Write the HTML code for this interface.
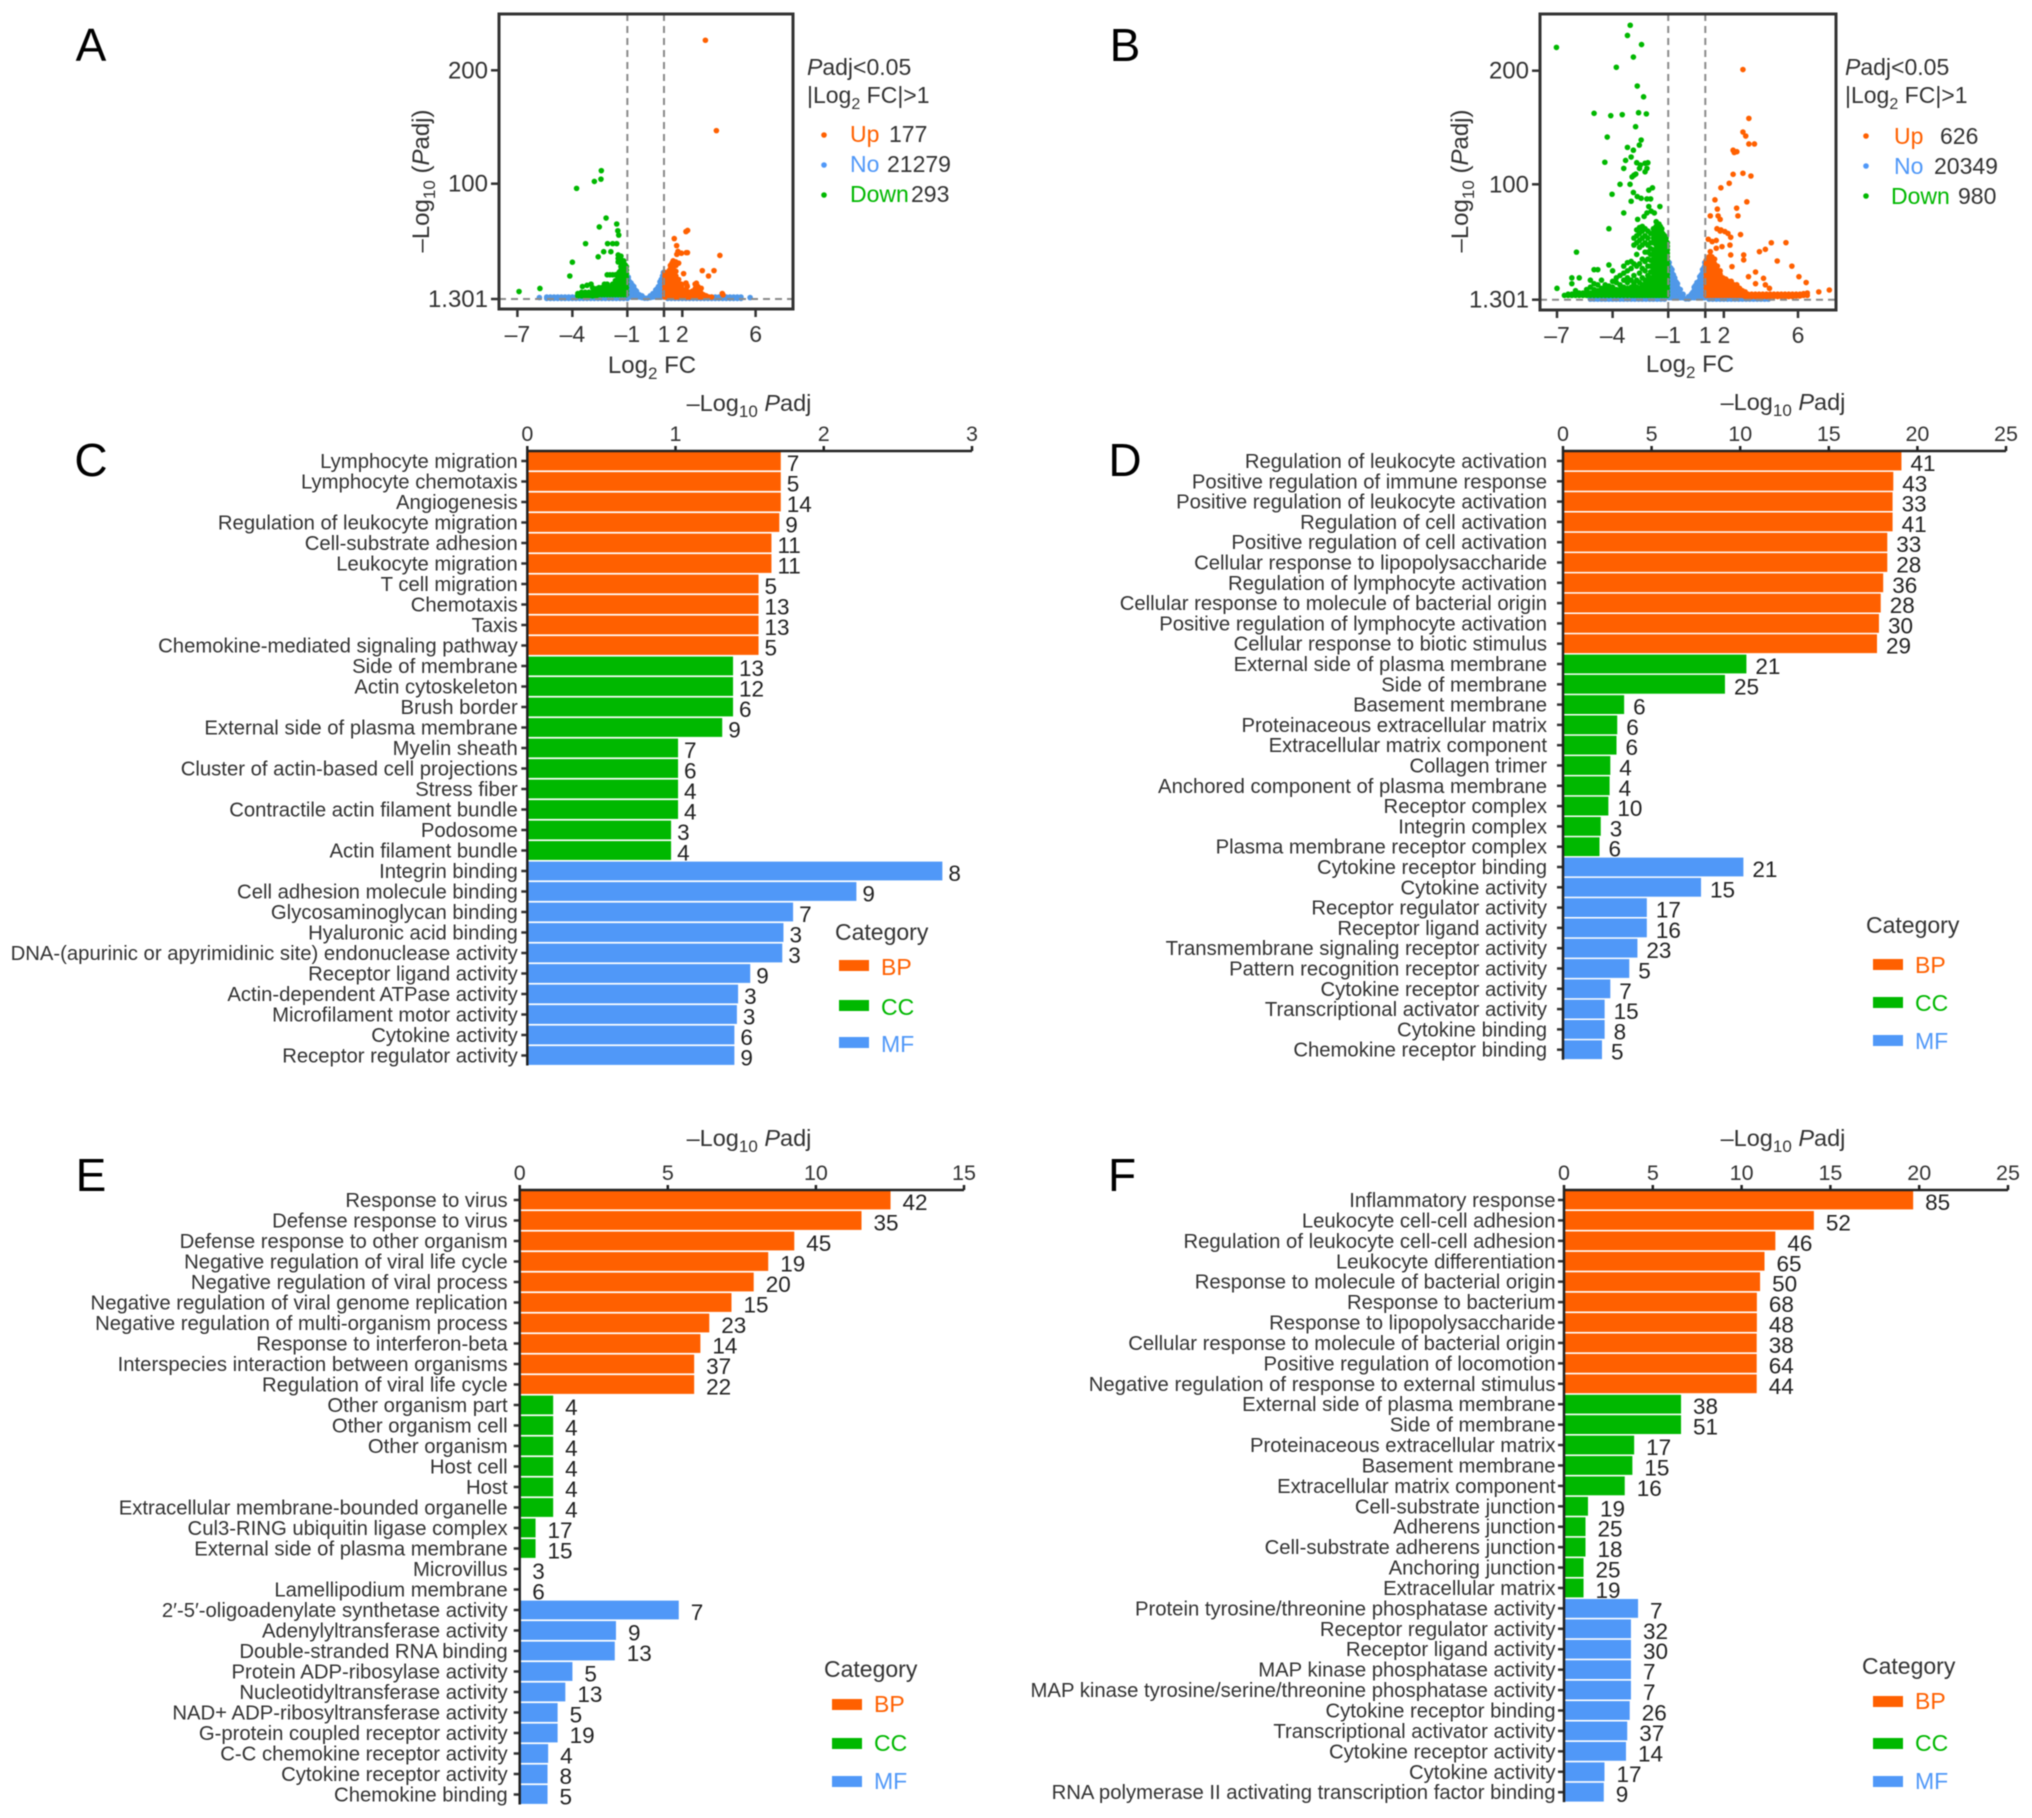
<!DOCTYPE html>
<html lang="en">
<head>
<meta charset="utf-8">
<title>Volcano plots and enrichment bar charts</title>
<style>
html,body{margin:0;padding:0;background:#fff;}
#figure{display:block;width:2032px;height:1818px;font-family:"Liberation Sans",sans-serif;filter:blur(0.65px);}
text{font-family:"Liberation Sans",sans-serif;fill:#333;}
.ttl{font-size:23.5px;}
.lg{font-size:23px;}
.letter{font-size:46px;fill:#000;text-anchor:middle;}
.vt{font-size:24px;}
</style>
</head>
<body>
<svg id="figure" xmlns="http://www.w3.org/2000/svg" width="2032" height="1818" viewBox="0 0 2032 1818">
<rect x="0" y="0" width="2032" height="1818" fill="#fff"/>

<text class="letter" x="91" y="61">A</text>
<text class="letter" x="1125" y="61">B</text>
<text class="letter" x="91" y="476">C</text>
<text class="letter" x="1125" y="476">D</text>
<text class="letter" x="91" y="1191">E</text>
<text class="letter" x="1122" y="1191">F</text>

<g id="volcano-a"></g>
<g id="volcano-b"></g>
<g id="bars-c"></g>
<g id="bars-d"></g>
<g id="bars-e"></g>
<g id="bars-f"></g>

<!-- volcano A annotations -->
<text class="vt" transform="translate(429,181) rotate(-90)" text-anchor="middle">–Log<tspan dy="6" font-size="17">10</tspan><tspan dy="-6"> (</tspan><tspan font-style="italic">P</tspan>adj)</text>
<text class="vt" x="652" y="373" text-anchor="middle">Log<tspan dy="6" font-size="17">2</tspan><tspan dy="-6"> FC</tspan></text>
<text class="lg" x="807" y="75"><tspan font-style="italic">P</tspan>adj&lt;0.05</text>
<text class="lg" x="807" y="103">|Log<tspan dy="6" font-size="16">2</tspan><tspan dy="-6"> FC|&gt;1</tspan></text>
<circle cx="824" cy="135" r="2.8" fill="#FF6000"/>
<circle cx="824" cy="165" r="2.8" fill="#5098F8"/>
<circle cx="824" cy="195" r="2.8" fill="#00B800"/>
<text class="lg" x="850" y="142" style="fill:#FF6000">Up</text>
<text class="lg" x="889" y="142">177</text>
<text class="lg" x="850" y="172" style="fill:#5098F8">No</text>
<text class="lg" x="887" y="172">21279</text>
<text class="lg" x="850" y="202" style="fill:#00B800">Down</text>
<text class="lg" x="911" y="202">293</text>

<!-- volcano B annotations -->
<text class="vt" transform="translate(1468,181) rotate(-90)" text-anchor="middle">–Log<tspan dy="6" font-size="17">10</tspan><tspan dy="-6"> (</tspan><tspan font-style="italic">P</tspan>adj)</text>
<text class="vt" x="1690" y="372" text-anchor="middle">Log<tspan dy="6" font-size="17">2</tspan><tspan dy="-6"> FC</tspan></text>
<text class="lg" x="1845" y="75"><tspan font-style="italic">P</tspan>adj&lt;0.05</text>
<text class="lg" x="1845" y="103">|Log<tspan dy="6" font-size="16">2</tspan><tspan dy="-6"> FC|&gt;1</tspan></text>
<circle cx="1866" cy="136" r="2.8" fill="#FF6000"/>
<circle cx="1866" cy="166" r="2.8" fill="#5098F8"/>
<circle cx="1866" cy="196" r="2.8" fill="#00B800"/>
<text class="lg" x="1894" y="144" style="fill:#FF6000">Up</text>
<text class="lg" x="1940" y="144">626</text>
<text class="lg" x="1894" y="174" style="fill:#5098F8">No</text>
<text class="lg" x="1934" y="174">20349</text>
<text class="lg" x="1891" y="204" style="fill:#00B800">Down</text>
<text class="lg" x="1958" y="204">980</text>

<!-- bar chart titles -->
<text class="ttl" x="749" y="411" text-anchor="middle">–Log<tspan dy="6" font-size="17">10</tspan><tspan dy="-6"> </tspan><tspan font-style="italic">P</tspan>adj</text>
<text class="ttl" x="1783" y="410" text-anchor="middle">–Log<tspan dy="6" font-size="17">10</tspan><tspan dy="-6"> </tspan><tspan font-style="italic">P</tspan>adj</text>
<text class="ttl" x="749" y="1146" text-anchor="middle">–Log<tspan dy="6" font-size="17">10</tspan><tspan dy="-6"> </tspan><tspan font-style="italic">P</tspan>adj</text>
<text class="ttl" x="1783" y="1146" text-anchor="middle">–Log<tspan dy="6" font-size="17">10</tspan><tspan dy="-6"> </tspan><tspan font-style="italic">P</tspan>adj</text>

<!-- legend C -->
<g>
<text class="lg" x="835" y="940">Category</text>
<rect x="839" y="960" width="30" height="11" fill="#FF6000"/>
<text class="lg" x="881" y="975" style="fill:#FF6000">BP</text>
<rect x="839" y="1000" width="30" height="11" fill="#00B800"/>
<text class="lg" x="881" y="1015" style="fill:#00B800">CC</text>
<rect x="839" y="1037" width="30" height="11" fill="#5098F8"/>
<text class="lg" x="881" y="1052" style="fill:#5098F8">MF</text>
</g>
<!-- legend D -->
<g>
<text class="lg" x="1866" y="933">Category</text>
<rect x="1873" y="959" width="30" height="11" fill="#FF6000"/>
<text class="lg" x="1915" y="973" style="fill:#FF6000">BP</text>
<rect x="1873" y="997" width="30" height="11" fill="#00B800"/>
<text class="lg" x="1915" y="1011" style="fill:#00B800">CC</text>
<rect x="1873" y="1035" width="30" height="11" fill="#5098F8"/>
<text class="lg" x="1915" y="1049" style="fill:#5098F8">MF</text>
</g>
<!-- legend E -->
<g>
<text class="lg" x="824" y="1677">Category</text>
<rect x="832" y="1699" width="30" height="11" fill="#FF6000"/>
<text class="lg" x="874" y="1712" style="fill:#FF6000">BP</text>
<rect x="832" y="1738" width="30" height="11" fill="#00B800"/>
<text class="lg" x="874" y="1751" style="fill:#00B800">CC</text>
<rect x="832" y="1776" width="30" height="11" fill="#5098F8"/>
<text class="lg" x="874" y="1789" style="fill:#5098F8">MF</text>
</g>
<!-- legend F -->
<g>
<text class="lg" x="1862" y="1674">Category</text>
<rect x="1873" y="1696" width="30" height="11" fill="#FF6000"/>
<text class="lg" x="1915" y="1709" style="fill:#FF6000">BP</text>
<rect x="1873" y="1738" width="30" height="11" fill="#00B800"/>
<text class="lg" x="1915" y="1751" style="fill:#00B800">CC</text>
<rect x="1873" y="1776" width="30" height="11" fill="#5098F8"/>
<text class="lg" x="1915" y="1789" style="fill:#5098F8">MF</text>
</g>
</svg>

<script>
// ---------- Volcano data: each row is [log2FC, -log10 Padj, -log10 Padj, ...] ----------
const volcanoXTicks = [-7, -4, -1, 1, 2, 6];
const volcanoYTicks = [1.301, 100, 200];
const volcanoYTickLabels = ['1.301', '100', '200'];

const aNo = [
[-5.8,2.5],[-5.4,1.8,3],[-5.2,1.8,3],[-5,1.8,3],[-4.8,1.8,3],[-4.6,1.8,3],[-4.4,1.8,3],[-4.2,1.8,3],[-4,1.8,3],[-3.8,1.8,3],[-3.6,1.8,3],[-3.4,1.8,3],[-3.2,1.8,3],[-3,1.8,3],[-2.8,1.8,3],[-2.6,1.8,3],[-2.4,1.8,3],[-2.2,1.8,3],[-2,1.8,3],[-1.8,1.8,3],[-1.6,1.8,3],[-1.4,1.8,3],[-1.2,1.8,3],[-1,1.8,3],
[-0.95,3,6,9,12,15,18,20],[-0.87,4,7,10,13,16],[-0.8,3,6,9,12,15],[-0.72,4,7,10,13],[-0.65,3,6,9,12],[-0.57,4,7,9],[-0.5,3,6,8],[-0.35,3,5],[-0.2,2.5,4],[-0.05,2],[0.1,2],[0.25,2.5,4],[0.4,3,6],[0.55,3,6,9],[0.62,4,7,10],[0.7,3,6,9,12],[0.78,4,7,10,13,16],[0.85,3,6,9,12,15,18],[0.92,4,7,10,13,16,19,21],[0.97,3,6,9,12,15,18,21,24],
[1.2,1.8,3],[1.4,1.8,3],[1.6,1.8,3],[1.8,1.8,3],[2,1.8,3],[2.2,1.8,3],[2.4,1.8,3],[2.6,1.8,3],[2.8,1.8,3],[3,1.8,3],[3.2,1.8,3],[3.4,1.8,3],[3.6,1.8,3],[3.8,1.8,3],[4,1.8,3],[4.2,1.8,3],[4.4,1.8,3],[4.6,1.8,3],[4.8,1.8,3],[5,1.8,3],[5.2,1.8,3],[5.7,2.5]
];
const aDown = [
[-2.42,111.5],[-2.44,104],[-2.8,102],[-3.77,96],[-2.16,70.6],[-2.53,63],[-1.58,65.5],[-1.52,59.7],[-1.47,56],[-3.28,48.7],[-2.08,48.7],[-1.8,48.7],[-1.58,48.7],[-2.29,41.8],[-1.9,41.8],[-2.59,37.4],[-4,32.8],[-4.14,21],[-6.91,7.7],[-5.77,10.3],[-2.98,14],[-3.45,12],[-3.2,13],
[-1.05,5,8,11,14,17,20,23,26,29],[-1.12,6.5,9.5,12.5,15.5,18.5,21.5,24.5,27.5,30.5],[-1.2,5,8,11,14,17,20,23,26,29,32,34],[-1.28,6.5,9.5,12.5,15.5,18.5,21.5,24.5,27.5,30.5,33.5],[-1.35,5,8,11,14,17,20,23,26,29,32,35,38],[-1.43,6.5,9.5,12.5,15.5,18.5,21.5,24.5,33.5,36.5],[-1.5,5,8,11,14,17,20,23,33,36,39],[-1.65,5,8,11,14,17,22],[-1.8,5,8,11,14,22],[-1.95,5,8,11,22],[-2.1,5,8,11,14,22],[-2.25,5,8,11,14],[-2.4,5,8,11],[-2.55,5,8,11],[-2.7,4,7,10],[-2.9,4,7,11],[-3.1,4,7],[-3.3,4,7],[-3.5,4,7],[-3.7,4,6]
];
const aUp = [
[3.26,226.5],[3.86,146.8],[2.29,60],[2.2,59],[1.56,53],[1.69,47],[1.7,39.5],[1.95,40.5],[2.22,41],[1.76,42],[2.28,41],[4.05,38.6],[1.55,33],[1.44,32],[1.66,32],[2.07,23],[3.09,25.6],[3.43,21],[3.73,25.6],[2.2,15],[2.77,14.8],[2.27,12],[2.75,11.4],[3.03,10.5],[4.18,6],[4.22,4.8],
[1.05,3,6,9,12,15,18,21,24],[1.12,4.5,7.5,10.5,13.5,16.5,19.5,22.5],[1.2,3,6,9,12,15,18,21,24],[1.28,4.5,7.5,10.5,13.5,16.5,19.5,22.5,25.5],[1.35,3,6,9,12,15,18,21,24,27,30],[1.42,4.5,7.5,10.5,13.5,16.5,19.5,22.5,25.5,28.5],[1.5,3,6,9,12,15,18,21,24,27,31,34],[1.65,3,6,9,12,15,18,21,25,30,33],[1.8,3,6,9,12,15,18,32],[1.95,3,6,9,12,14],[2.1,3,6,9],[2.25,3,6,8,13],[2.4,3,5,7],[2.55,3,5,8],[2.7,3,5,7,10,14],[2.85,3,5,8,12],[3,3,5,7],[3.15,3,5],[3.3,3,4],[3.45,3],[3.6,3]
];

const bNo = [
[-5.2,1.8,2.8],[-5,1.8,2.8],[-4.8,1.8,2.8],[-4.6,1.8,2.8],[-4.4,1.8,2.8],[-4.2,1.8,2.8],[-4,1.8,2.8],[-3.8,1.8,2.8],[-3.6,1.8,2.8],[-3.4,1.8,2.8],[-3.2,1.8,2.8],[-3,1.8,2.8],[-2.8,1.8,2.8],[-2.6,1.8,2.8],[-2.4,1.8,2.8],[-2.2,1.8,2.8],[-2,1.8,2.8],[-1.8,1.8,2.8],[-1.6,1.8,2.8],[-1.4,1.8,2.8],[-1.2,1.8,2.8],
[-0.95,3,6,9,12,15,18,21,24,27,30,33],[-0.87,4.5,7.5,10.5,13.5,16.5,19.5,22.5,25.5,28.5],[-0.8,3,6,9,12,15,18,21,24,27],[-0.72,4.5,7.5,10.5,13.5,16.5,19.5,22.5],[-0.65,3,6,9,12,15,18,20],[-0.57,4.5,7.5,10.5,13.5,16.5],[-0.5,3,6,9,12,15],[-0.42,4.5,7.5,10.5],[-0.35,3,6,10],[-0.2,3,6],[-0.05,2],[0.1,2,4],[0.25,3,6],[0.32,4.5,7.5],[0.4,3,6,9,12],[0.47,4.5,7.5,10.5,13.5],[0.55,3,6,9,12,16],[0.62,4.5,7.5,10.5,13.5,16.5],[0.7,3,6,9,12,15,18,21],[0.78,4.5,7.5,10.5,13.5,16.5,19.5,22.5],[0.85,3,6,9,12,15,18,21,24,27],[0.92,4.5,7.5,10.5,13.5,16.5,19.5,22.5,25.5,28.5],[0.97,3,6,9,12,15,18,21,24,27,30,33],
[1.2,1.8,2.8],[1.4,1.8,2.8],[1.6,1.8,2.8],[1.8,1.8,2.8],[2,1.8,2.8],[2.2,1.8,2.8],[2.4,1.8,2.8],[2.6,1.8,2.8],[2.8,1.8,2.8],[3,1.8,2.8],[3.2,1.8,2.8],[3.4,1.8,2.8],[3.6,1.8,2.8],[3.8,1.8,2.8],[4,1.8,2.8],[4.2,1.8,2.8],[4.4,1.8,2.8]
];
const bDown = [
[-3.05,240],[-3.2,231],[-2.44,223],[-7.03,220.5],[-2.88,212],[-3.8,203],[-2.67,186.5],[-2.33,177],[-5,162.5],[-4.1,160.4],[-3.48,161.3],[-2.6,163],[-2.18,162],[-2.76,150.7],[-4.29,141.6],[-2.46,139],[-2.56,134.5],[-3.2,132.5],[-2.88,130],[-4.42,119.4],[-3,124],[-3.4,114],[-3.3,121],
[-2.7,119],[-2.5,117],[-2.25,118.5],[-2.1,119],[-2.15,114],[-2.25,111],[-2.55,114],[-2.85,108],[-2.95,106.5],[-2.75,109],[-3.06,100],[-3.6,100],[-4.03,91.5],[-2.88,93],[-2.67,89.5],[-2.46,88],[-2.15,87.5],[-1.85,97],[-2.05,95],[-1.95,87.5],[-3,85.5],[-1.45,81],[-2.05,81],[-1.92,77],[-1.75,75.5],[-2.15,75.5],[-3.4,75.5],[-2.3,72.5],[-2.65,70],[-4.2,62],[-5.95,42],
[-1.05,5,8,11,14,17,20,23,26,29,32,35,38,41,44,47,50],[-1.12,6.5,9.5,12.5,15.5,18.5,21.5,24.5,27.5,30.5,33.5,36.5,39.5,42.5,45.5,48.5,51.5,54],[-1.2,5,8,11,14,17,20,23,26,29,32,35,38,41,44,47,50,53,56],[-1.28,6.5,9.5,12.5,15.5,18.5,21.5,24.5,27.5,30.5,33.5,36.5,39.5,42.5,45.5,48.5,51.5,54.5,57.5],[-1.35,5,8,11,14,17,20,23,26,29,32,35,38,41,44,47,50,53,56,59,62],[-1.43,6.5,9.5,12.5,15.5,18.5,21.5,24.5,27.5,30.5,33.5,36.5,39.5,42.5,45.5,48.5,51.5,54.5,57.5,60.5,64],[-1.5,5,8,11,14,17,20,23,26,29,32,35,38,41,44,47,50,53,56,59,62,66],[-1.58,6.5,9.5,12.5,15.5,18.5,21.5,24.5,27.5,30.5,33.5,38,42,46,50,54,58,62,66],[-1.65,5,8,11,14,17,20,23,26,29,32,36,40,44,48,52,56,60,64,68],
[-1.8,5,8,11,14,17,20,24,28,32,36,40,44,50,54,58,62],[-1.95,5,8,11,14,17,20,25,30,35,40,45,50,58],[-2.1,5,8,11,14,18,22,30,36,42,48,54,60],[-2.25,5,8,11,14,18,26,34,42,50,56,62],[-2.4,5,8,11,14,20,28,36,48,54,60,64],[-2.55,5,8,11,16,24,32,46,52,58,63],[-2.7,5,8,12,18,30,40,50,56,61],[-2.85,5,8,11,15,22,32,48,54],[-3,5,8,12,18,28,34],[-3.2,5,8,11,16,20,26,33],[-3.4,5,8,12,18,24,30],[-3.6,5,7,10,14,22],[-3.8,5,7,10,16,20],[-4,5,8,12,17,26],[-4.2,5,7,10,13,31],[-4.4,5,7,10,14],[-4.6,5,7,11,18],[-4.8,5,7,9,14,27],[-5,5,7,10,15,27],[-5.2,5,7,12,18],[-5.4,5,7,10],[-5.6,5,7],[-5.8,5,7,20],[-6,5,7,9],[-6.2,5,6,15,20],[-6.4,5,6],[-6.6,5],[-7,11]
];
const bUp = [
[3.03,201],[3.35,158],[3.03,146],[3.18,142.5],[3.35,135.5],[3.65,135.5],[2.5,130],[2.7,128.7],[2.56,128],[2.5,108.8],[3.03,109.7],[3.46,107.3],[2.29,100.9],[1.84,97],[1.52,86.7],[3.24,85],[1.65,78.8],[2.69,79.6],[2.76,73],[1.27,73],[1.69,73],[1.8,70],[1.63,62],[1.84,61],[2.05,59.6],[2.22,58],[1.8,60],[2.9,57],[2.37,54.7],[1.16,53],[1.37,51],[1.59,52],[4.56,50],[4.24,44.4],[3.92,42.4],[5.35,50.1],[2.33,48],[1.9,46.7],[1.59,45.3],[1.27,42.4],[2.37,39.6],[3.07,39.6],[3.07,35.3],[4.88,34.4],[2.44,29.6],[5.67,30],[3.71,25],[6.05,21],[6.44,16],[3.33,21],[4.14,19.6],[3.71,15],[4.24,14],[4.46,11],[7.12,8],[7.69,9.6],
[1.05,5,8,11,14,17,20,23,26,29,32,35],[1.12,6.5,9.5,12.5,15.5,18.5,21.5,24.5,27.5,30.5,33.5],[1.2,5,8,11,14,17,20,23,26,29,32,35,38],[1.28,6.5,9.5,12.5,15.5,18.5,21.5,24.5,27.5,30.5,33.5,36.5],[1.35,5,8,11,14,17,20,23,26,29,32,35,38],[1.43,6.5,9.5,12.5,15.5,18.5,21.5,24.5,27.5,30.5,33.5,36.5],[1.5,5,8,11,14,17,20,23,26,29,32,36],[1.58,6.5,9.5,12.5,15.5,18.5,21.5,24.5,27.5],[1.65,5,8,11,14,17,20,23,26,30],[1.72,6.5,9.5,12.5,15.5,18.5,21.5,24.5],[1.8,5,8,11,14,17,20,23,26],[1.88,6.5,9.5,12.5,15.5,18.5],[1.95,5,8,11,14,17,20],[2.02,6.5,9.5,12.5,15.5],[2.1,5,8,11,14,17,19],[2.18,6.5,9.5,12.5],[2.25,5,8,11,14,17],[2.4,5,8,11,14,17],[2.55,5,8,11,14],[2.7,5,8,11,14],[2.85,5,8,11],[3,5,7,9],[3.15,4,6,8],
[3.3,4,6],[3.5,4,6],[3.7,4,6],[3.9,4,6],[4.1,4,6],[4.3,4,6],[4.5,4,6],[4.7,4,6],[4.9,4,6],[5.1,4,6],[5.3,4,6],[5.5,4,6],[5.7,4,6],[5.9,4.5,6],[6.1,4.5,6],[6.3,5,6.5],[6.5,5,7]
];

// ---------- Bar chart data ----------
const categoryColors = {BP:'#FF6000', CC:'#00B800', MF:'#5098F8'};

const cTicks = [0, 1, 2, 3];
const cTerms = ['Lymphocyte migration','Lymphocyte chemotaxis','Angiogenesis','Regulation of leukocyte migration','Cell-substrate adhesion','Leukocyte migration','T cell migration','Chemotaxis','Taxis','Chemokine-mediated signaling pathway','Side of membrane','Actin cytoskeleton','Brush border','External side of plasma membrane','Myelin sheath','Cluster of actin-based cell projections','Stress fiber','Contractile actin filament bundle','Podosome','Actin filament bundle','Integrin binding','Cell adhesion molecule binding','Glycosaminoglycan binding','Hyaluronic acid binding','DNA-(apurinic or apyrimidinic site) endonuclease activity','Receptor ligand activity','Actin-dependent ATPase activity','Microfilament motor activity','Cytokine activity','Receptor regulator activity'];
const cValues = [1.71,1.71,1.71,1.70,1.647,1.647,1.56,1.56,1.56,1.56,1.388,1.388,1.388,1.315,1.017,1.017,1.017,1.017,0.97,0.97,2.80,2.22,1.793,1.728,1.72,1.504,1.422,1.414,1.397,1.397];
const cCounts = [7,5,14,9,11,11,5,13,13,5,13,12,6,9,7,6,4,4,3,4,8,9,7,3,3,9,3,3,6,9];

const dTicks = [0, 5, 10, 15, 20, 25];
const dTerms = ['Regulation of leukocyte activation','Positive regulation of immune response','Positive regulation of leukocyte activation','Regulation of cell activation','Positive regulation of cell activation','Cellular response to lipopolysaccharide','Regulation of lymphocyte activation','Cellular response to molecule of bacterial origin','Positive regulation of lymphocyte activation','Cellular response to biotic stimulus','External side of plasma membrane','Side of membrane','Basement membrane','Proteinaceous extracellular matrix','Extracellular matrix component','Collagen trimer','Anchored component of plasma membrane','Receptor complex','Integrin complex','Plasma membrane receptor complex','Cytokine receptor binding','Cytokine activity','Receptor regulator activity','Receptor ligand activity','Transmembrane signaling receptor activity','Pattern recognition receptor activity','Cytokine receptor activity','Transcriptional activator activity','Cytokine binding','Chemokine receptor binding'];
const dValues = [19.1,18.64,18.6,18.6,18.3,18.3,18.07,17.93,17.83,17.72,10.35,9.14,3.45,3.06,3.02,2.67,2.63,2.56,2.13,2.06,10.18,7.79,4.73,4.73,4.2,3.74,2.67,2.35,2.35,2.2];
const dCounts = [41,43,33,41,33,28,36,28,30,29,21,25,6,6,6,4,4,10,3,6,21,15,17,16,23,5,7,15,8,5];

const eTicks = [0, 5, 10, 15];
const eTerms = ['Response to virus','Defense response to virus','Defense response to other organism','Negative regulation of viral life cycle','Negative regulation of viral process','Negative regulation of viral genome replication','Negative regulation of multi-organism process','Response to interferon-beta','Interspecies interaction between organisms','Regulation of viral life cycle','Other organism part','Other organism cell','Other organism','Host cell','Host','Extracellular membrane-bounded organelle','Cul3-RING ubiquitin ligase complex','External side of plasma membrane','Microvillus','Lamellipodium membrane','2′-5′-oligoadenylate synthetase activity','Adenylyltransferase activity','Double-stranded RNA binding','Protein ADP-ribosylase activity','Nucleotidyltransferase activity','NAD+ ADP-ribosyltransferase activity','G-protein coupled receptor activity','C-C chemokine receptor activity','Cytokine receptor activity','Chemokine binding'];
const eValues = [12.52,11.54,9.27,8.39,7.9,7.15,6.4,6.1,5.89,5.89,1.13,1.13,1.13,1.13,1.13,1.13,0.535,0.535,0.02,0.02,5.37,3.25,3.21,1.78,1.54,1.28,1.28,0.96,0.94,0.94];
const eCounts = [42,35,45,19,20,15,23,14,37,22,4,4,4,4,4,4,17,15,3,6,7,9,13,5,13,5,19,4,8,5];

const fTicks = [0, 5, 10, 15, 20, 25];
const fTerms = ['Inflammatory response','Leukocyte cell-cell adhesion','Regulation of leukocyte cell-cell adhesion','Leukocyte differentiation','Response to molecule of bacterial origin','Response to bacterium','Response to lipopolysaccharide','Cellular response to molecule of bacterial origin','Positive regulation of locomotion','Negative regulation of response to external stimulus','External side of plasma membrane','Side of membrane','Proteinaceous extracellular matrix','Basement membrane','Extracellular matrix component','Cell-substrate junction','Adherens junction','Cell-substrate adherens junction','Anchoring junction','Extracellular matrix','Protein tyrosine/threonine phosphatase activity','Receptor regulator activity','Receptor ligand activity','MAP kinase phosphatase activity','MAP kinase tyrosine/serine/threonine phosphatase activity','Cytokine receptor binding','Transcriptional activator activity','Cytokine receptor activity','Cytokine activity','RNA polymerase II activating transcription factor binding'];
const fValues = [19.66,14.07,11.9,11.29,11.04,10.86,10.86,10.85,10.85,10.85,6.59,6.59,3.95,3.85,3.42,1.35,1.21,1.21,1.1,1.1,4.17,3.77,3.77,3.77,3.77,3.70,3.56,3.49,2.28,2.24];
const fCounts = [85,52,46,65,50,68,48,38,64,44,38,51,17,15,16,19,25,18,25,19,7,32,30,7,7,26,37,14,17,9];

// ---------- Drawing ----------
const NS = 'http://www.w3.org/2000/svg';
function mk(tag, attrs, parent, txt) {
  const el = document.createElementNS(NS, tag);
  for (const k in attrs) el.setAttribute(k, attrs[k]);
  if (txt !== undefined) el.textContent = txt;
  parent.appendChild(el);
  return el;
}

function linear(d0, d1, r0, r1) {
  return function (v) { return r0 + (v - d0) * (r1 - r0) / (d1 - d0); };
}

function drawVolcano(id, cfg, noRows, downRows, upRows) {
  const root = document.getElementById(id);
  const sx = linear(-7, 6, cfg.xm7, cfg.x6);
  const syLow = linear(1.301, 100, cfg.y1, cfg.y100);
  const syHigh = linear(100, 200, cfg.y100, cfg.y200);
  const sy = function (v) { return v <= 100 ? syLow(v) : syHigh(v); };

  function series(rows, color, label) {
    const g = mk('g', {}, root);
    
    
    rows.forEach(function (row) {
      for (let i = 1; i < row.length; i++) {
        const c = mk('circle', {cx: sx(row[0]), cy: sy(row[i]), r: 2.8, fill: color}, g);
        
        
      }
    });
  }
  series(noRows, '#5098E8', 'no');
  series(downRows, '#00B800', 'down');
  series(upRows, '#FF6000', 'up');

  [-1, 1].forEach(function (v) {
    const l = mk('line', {x1: sx(v), x2: sx(v), y1: cfg.top, y2: cfg.bottom, stroke: '#8a8a8a', 'stroke-width': 2, 'stroke-dasharray': '7 5'}, root);
    
    
  });
  const h = mk('line', {x1: cfg.left, x2: cfg.right, y1: sy(1.301), y2: sy(1.301), stroke: '#8a8a8a', 'stroke-width': 2, 'stroke-dasharray': '7 5'}, root);
  
  

  const box = mk('rect', {x: cfg.left, y: cfg.top, width: cfg.right - cfg.left, height: cfg.bottom - cfg.top, fill: 'none', stroke: '#333', 'stroke-width': 3}, root);
  
  

  volcanoXTicks.forEach(function (v) {
    const t = mk('line', {x1: sx(v), x2: sx(v), y1: cfg.bottom, y2: cfg.bottom + 8, stroke: '#333', 'stroke-width': 2.5}, root);
    
    
    const s = mk('text', {x: sx(v), y: cfg.bottom + 33, 'text-anchor': 'middle', 'font-size': 23}, root, v < 0 ? '–' + Math.abs(v) : String(v));
    
    
  });
  volcanoYTicks.forEach(function (v, i) {
    const t = mk('line', {x1: cfg.left - 8, x2: cfg.left, y1: sy(v), y2: sy(v), stroke: '#333', 'stroke-width': 2.5}, root);
    
    
    const s = mk('text', {x: cfg.left - 11, y: sy(v) + 8, 'text-anchor': 'end', 'font-size': 24}, root, volcanoYTickLabels[i]);
    
    
  });
}

function drawBars(id, cfg, ticks, terms, values, counts) {
  const root = document.getElementById(id);
  const sx = linear(0, ticks[ticks.length - 1], cfg.x0, cfg.xMax);
  const rowY = function (i) { return cfg.firstY + i * cfg.pitch; };
  const catOf = function (i) { return i < 10 ? 'BP' : i < 20 ? 'CC' : 'MF'; };

  values.forEach(function (v, i) {
    const bar = mk('rect', {x: sx(0), y: rowY(i) - 9.4, width: sx(v) - sx(0), height: 18.8, fill: categoryColors[catOf(i)]}, root);
    
    

    const tick = mk('line', {x1: sx(0) - 6, x2: sx(0), y1: rowY(i), y2: rowY(i), stroke: '#333', 'stroke-width': 2.5}, root);
    
    

    const lab = mk('text', {x: sx(0) - cfg.labelGap, y: rowY(i) + 7, 'text-anchor': 'end', 'font-size': 20.3}, root, terms[i]);
    
    

    const cnt = mk('text', {x: sx(v) + cfg.countGap, y: rowY(i) + 10, 'font-size': 22.5, style: 'fill:#222'}, root, String(counts[i]));
    
    
  });

  const yAxis = mk('line', {x1: sx(0), x2: sx(0), y1: cfg.axisY, y2: rowY(values.length - 1) + 10, stroke: '#222', 'stroke-width': 2.5}, root);
  
  

  const xAxis = mk('line', {x1: sx(0), x2: sx(ticks[ticks.length - 1]), y1: cfg.axisY, y2: cfg.axisY, stroke: '#222', 'stroke-width': 2.5}, root);
  
  

  ticks.forEach(function (t) {
    const m = mk('line', {x1: sx(t), x2: sx(t), y1: cfg.axisY - 5, y2: cfg.axisY, stroke: '#222', 'stroke-width': 2.5}, root);
    
    
    const s = mk('text', {x: sx(t), y: cfg.axisY - 10, 'text-anchor': 'middle', 'font-size': 21.5}, root, String(t));
    
    
  });
}

drawVolcano('volcano-a', {key:'a', left:499, right:793, top:14, bottom:309, xm7:517.4, x6:755.6, y1:299, y100:183.7, y200:70.3}, aNo, aDown, aUp);
drawVolcano('volcano-b', {key:'b', left:1540, right:1836, top:14, bottom:310, xm7:1557, x6:1798, y1:299.7, y100:184.3, y200:70.7}, bNo, bDown, bUp);

drawBars('bars-c', {x0:527.3, xMax:972, axisY:451, firstY:461, pitch:20.5, labelGap:9.5, countGap:6}, cTicks, cTerms, cValues, cCounts);
drawBars('bars-d', {x0:1563, xMax:2006, axisY:451, firstY:461, pitch:20.3, labelGap:16, countGap:9}, dTicks, dTerms, dValues, dCounts);
drawBars('bars-e', {x0:519.7, xMax:964, axisY:1190, firstY:1200, pitch:20.5, labelGap:12, countGap:12}, eTicks, eTerms, eValues, eCounts);
drawBars('bars-f', {x0:1564, xMax:2008, axisY:1190, firstY:1200, pitch:20.42, labelGap:8.5, countGap:12}, fTicks, fTerms, fValues, fCounts);
</script>
</body>
</html>
